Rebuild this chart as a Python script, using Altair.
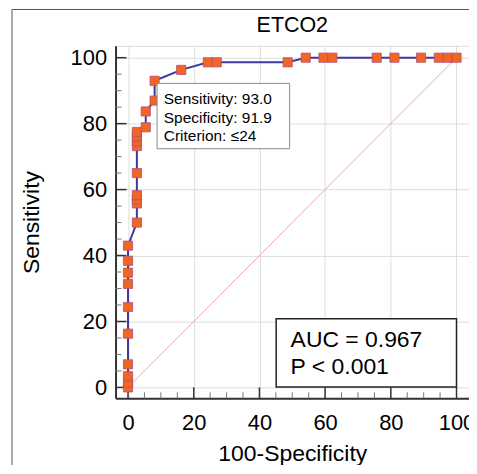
import altair as alt
import pandas as pd

# ---- data ----
fpr = [0, 0, 0, 0, 0, 0, 0, 0, 0, 0,
       2.7, 2.7, 2.7, 2.7, 2.7, 2.7, 2.7, 2.7, 2.7,
       5.4, 5.4,
       8.1, 8.1,
       16.2, 24.3, 27.0, 48.6,
       54.1, 59.5, 62.2, 75.7, 81.1, 89.2, 94.6, 97.3, 100]
tpr = [0, 1.5, 3.4, 7.0, 16.3, 24.4, 31.4, 34.8, 38.4, 43.0,
       50.0, 55.8, 57.0, 58.3, 65.0, 73.2, 74.6, 76.1, 77.5,
       78.9, 83.7,
       87.0, 93.0,
       96.3, 98.6, 98.6, 98.6,
       100, 100, 100, 100, 100, 100, 100, 100, 100]

diag_x = [0, 100]
diag_y = [0, 100]

major_ticks = [0, 20, 40, 60, 80, 100]
minor_ticks = [5, 10, 15, 25, 30, 35, 45, 50, 55, 65, 70, 75, 85, 90, 95]

chart_title = "ETCO2"
x_title = "100-Specificity"
y_title = "Sensitivity"

info_lines = ["Sensitivity: 93.0", "Specificity: 91.9", "Criterion: \u226424"]
info_text_y = [86.0, 80.3, 74.6]
info_text_x = 10.9
info_box = {"x1": 8.85, "x2": 49.2, "y1": 72.4, "y2": 92.2}

auc_lines = ["AUC = 0.967", "P < 0.001"]
auc_text_y = [12.4, 4.2]
auc_text_x = 49.5
auc_box = {"x1": 45.1, "x2": 100.0, "y1": 0.1, "y2": 20.8}

# ---- layout ----
W, H = 355, 354
XD = [-3.8, 103.8]
YD = [-3.3, 103.6]
F = "Liberation Sans"

roc = pd.DataFrame({"x": fpr, "y": tpr})
roc["idx"] = range(len(roc))
diag = pd.DataFrame({"x": diag_x, "y": diag_y})
info_df = pd.DataFrame({"t": info_lines, "y": info_text_y, "x": [info_text_x] * 3})
auc_df = pd.DataFrame({"t": auc_lines, "y": auc_text_y, "x": [auc_text_x] * 2})

xs = alt.Scale(domain=XD, nice=False, zero=False)
ys = alt.Scale(domain=YD, nice=False, zero=False)

x_axis = alt.Axis(values=major_ticks, grid=True, gridColor="#DDDDDD", gridWidth=1,
                  ticks=False, domainColor="#333333", domainWidth=2,
                  labelFontSize=22, labelFont=F, labelColor="black", labelPadding=14,
                  labelFlush=False, labelOverlap=False,
                  title=x_title, titleFontSize=23, titleFont=F, titleFontWeight="normal",
                  titleColor="black", titleY=62, titleBaseline="alphabetic")
y_axis = alt.Axis(values=major_ticks, grid=True, gridColor="#DDDDDD", gridWidth=1,
                  ticks=False, domainColor="#333333", domainWidth=2,
                  labelFontSize=22, labelFont=F, labelColor="black", labelPadding=9,
                  labelFlush=False, labelOverlap=False,
                  title=y_title, titleFontSize=23, titleFont=F, titleFontWeight="normal",
                  titleColor="black", titleX=-77, titleBaseline="alphabetic")

X = lambda f: alt.X(f, scale=xs, axis=x_axis)
Y = lambda f: alt.Y(f, scale=ys, axis=y_axis)

one = alt.Data(values=[{}])

diag_layer = alt.Chart(diag).mark_line(color="#E8A6A6", strokeWidth=1).encode(
    x=X("x:Q"), y=Y("y:Q"))

line_layer = alt.Chart(roc).mark_line(color="#3B3BA3", strokeWidth=2).encode(
    x=X("x:Q"), y=Y("y:Q"), order="idx:Q")

pts_layer = alt.Chart(roc).mark_point(shape="square", filled=True, size=85, opacity=1,
                                      color="#F26522", stroke="#B0507A", strokeWidth=0.8).encode(
    x=X("x:Q"), y=Y("y:Q"))

xmaj = alt.Chart(pd.DataFrame({"x": major_ticks})).mark_rule(color="#333333", strokeWidth=1.5).encode(
    x=X("x:Q"), y=alt.value(H), y2=alt.value(H - 11))
xmin = alt.Chart(pd.DataFrame({"x": minor_ticks})).mark_rule(color="#777777", strokeWidth=1).encode(
    x=X("x:Q"), y=alt.value(H), y2=alt.value(H - 6))
ymaj = alt.Chart(pd.DataFrame({"y": major_ticks})).mark_rule(color="#333333", strokeWidth=1.5).encode(
    y=Y("y:Q"), x=alt.value(0), x2=alt.value(11))
ymin = alt.Chart(pd.DataFrame({"y": minor_ticks})).mark_rule(color="#777777", strokeWidth=1).encode(
    y=Y("y:Q"), x=alt.value(0), x2=alt.value(6))

info_rect = alt.Chart(pd.DataFrame([info_box])).mark_rect(fill="white", stroke="#8A8A8A", strokeWidth=1).encode(
    x=X("x1:Q"), x2="x2:Q", y=Y("y1:Q"), y2="y2:Q")
info_txt = alt.Chart(info_df).mark_text(align="left", baseline="alphabetic", fontSize=15.5,
                                        font=F, color="black").encode(
    x=X("x:Q"), y=Y("y:Q"), text="t:N")

auc_rect = alt.Chart(pd.DataFrame([auc_box])).mark_rect(fill="white", stroke="#222222", strokeWidth=1.5).encode(
    x=X("x1:Q"), x2="x2:Q", y=Y("y1:Q"), y2="y2:Q")
auc_txt = alt.Chart(auc_df).mark_text(align="left", baseline="alphabetic", fontSize=23,
                                      font=F, color="black").encode(
    x=X("x:Q"), y=Y("y:Q"), text="t:N")

title_txt = alt.Chart(pd.DataFrame({"t": [chart_title]})).mark_text(
    align="center", baseline="alphabetic", fontSize=21.5, font=F, color="black").encode(
    x=alt.value(W / 2), y=alt.value(-14), text="t:N")

frame_top = alt.Chart(one).mark_rule(color="#555555", strokeWidth=1).encode(
    x=alt.value(-104), x2=alt.value(370), y=alt.value(-36.5))
frame_left = alt.Chart(one).mark_rule(color="#555555", strokeWidth=1).encode(
    x=alt.value(-104), y=alt.value(-36.5), y2=alt.value(440))

chart = alt.layer(
    diag_layer, xmin, xmaj, ymin, ymaj, line_layer, pts_layer,
    info_rect, info_txt, auc_rect, auc_txt, title_txt, frame_top, frame_left,
).properties(
    width=W, height=H,
    autosize=alt.AutoSizeParams(type="none"),
    padding={"left": 108, "top": 37, "right": 0, "bottom": 66},
).configure_view(stroke=None).configure(background="white")

chart.save("out.html", embed_options={"renderer": "svg", "actions": False})
